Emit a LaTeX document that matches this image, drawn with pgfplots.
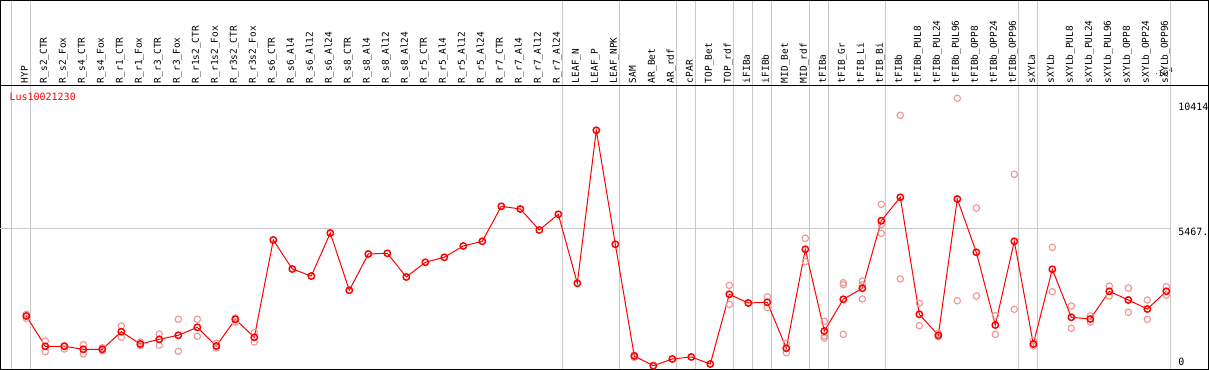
\documentclass[border=0pt]{standalone}
\usepackage{fontspec}
\usepackage{pgfplots}
\pgfplotsset{compat=1.18}
\usepackage{pgfplotstable}
\setmainfont{DejaVu Sans Mono}
\definecolor{meanred}{RGB}{255,0,0}
\definecolor{reppink}{RGB}{240,150,150}
\definecolor{gridgray}{RGB}{200,200,200}

\pgfplotstableread{
x y
0 2130
1 977
2 977
3 863
4 863
5 1532
6 1064
7 1243
8 1395
9 1700
10 988
11 2004
12 1319
13 5022
14 3918
15 3652
16 5288
17 3108
18 4489
19 4516
20 3614
21 4173
22 4364
23 4794
24 4972
25 6304
26 6201
27 5402
28 6000
29 3374
30 9196
31 4858
32 608
33 239
34 494
35 570
36 303
37 2956
38 2624
39 2651
40 901
41 4668
42 1559
43 2765
44 3184
45 5756
46 6647
47 2194
48 1395
49 6582
50 4554
51 1787
52 4972
53 1064
54 3907
55 2080
56 2016
57 3070
58 2739
59 2396
60 3070
}\meantable

\pgfplotstableread{
x y
0 2194
0 2042
1 1178
1 771
2 1000
2 874
3 1038
3 684
4 924
4 809
5 1749
5 1319
6 1140
6 1000
7 1445
7 1026
8 2004
8 787
8 1395
9 2004
9 1357
10 1091
10 912
11 2054
11 1902
12 1494
12 1140
32 646
32 551
37 3298
37 2575
39 2864
39 2446
40 1091
40 733
41 5087
41 4196
42 1928
42 1369
42 1293
43 3397
43 3321
43 1433
44 3458
44 3317
44 2777
45 6380
45 5277
45 5610
46 9767
46 3538
47 2613
47 1761
48 1471
48 1342
49 10414
49 2712
50 6239
50 2891
51 2141
51 1433
52 7522
52 2385
53 1190
53 988
54 4744
54 3055
55 2510
55 1662
56 2130
56 1902
57 3271
57 2891
58 3195
58 2271
59 2739
59 2004
60 3245
60 2918
}\reptable

\begin{document}
\begin{tikzpicture}
\begin{axis}[
  scale only axis, width=906pt, height=212.85pt,
  xmin=-1.3579, xmax=62.221, ymin=94, ymax=10893,
  clip=false,
  axis line style={line width=0.75pt},
  xtick={0,...,60},
  xticklabels={HYP,R\_s2\_CTR,R\_s2\_Fox,R\_s4\_CTR,R\_s4\_Fox,R\_r1\_CTR,R\_r1\_Fox,R\_r3\_CTR,R\_r3\_Fox,R\_r1s2\_CTR,R\_r1s2\_Fox,R\_r3s2\_CTR,R\_r3s2\_Fox,R\_s6\_CTR,R\_s6\_Al4,R\_s6\_Al12,R\_s6\_Al24,R\_s8\_CTR,R\_s8\_Al4,R\_s8\_Al12,R\_s8\_Al24,R\_r5\_CTR,R\_r5\_Al4,R\_r5\_Al12,R\_r5\_Al24,R\_r7\_CTR,R\_r7\_Al4,R\_r7\_Al12,R\_r7\_Al24,LEAF\_N,LEAF\_P,LEAF\_NPK,SAM,AR\_Bet,AR\_rdf,cPAR,TOP\_Bet,TOP\_rdf,iFIBa,iFIBb,MID\_Bet,MID\_rdf,tFIBa,tFIB\_Gr,tFIB\_Li,tFIB\_Bi,tFIBb,tFIBb\_PUL8,tFIBb\_PUL24,tFIBb\_PUL96,tFIBb\_OPP8,tFIBb\_OPP24,tFIBb\_OPP96,sXYLa,sXYLb,sXYLb\_PUL8,sXYLb\_PUL24,sXYLb\_PUL96,sXYLb\_OPP8,sXYLb\_OPP24,sXYLb\_OPP96},
  xticklabel pos=upper,
  xtick style={draw=none}, ytick style={draw=none},
  major tick length=0pt,
  xticklabel style={font=\fontsize{7.1}{8}\selectfont, xshift=1.1pt, yshift=1.8pt, rotate=90, anchor=base west, inner sep=0pt},
  ytick={10094,5315,379}, yticklabels={10414,5467.,0},
  yticklabel pos=right,
  yticklabel style={font=\fontsize{7.5}{9}\selectfont, anchor=west, inner sep=0pt, xshift=-22.875pt},
]
% grid lines
\pgfplotsinvokeforeach{-0.78,0.22,28.22,31.22,34.22,35.22,37.22,38.22,39.22,41.22,42.22,45.22,52.22,53.22,60.22}{
  \draw[gridgray, line width=0.75pt] (axis cs:#1,94) -- (axis cs:#1,14135);
}
\draw[gridgray, line width=0.75pt] (axis cs:-1.3579,5467) -- (axis cs:60.22,5467);
% outer frame above axis
\draw[black, line width=0.75pt] (rel axis cs:0,1) -- (rel axis cs:0,1.30021) -- (rel axis cs:1,1.30021) -- (rel axis cs:1,1);
\draw[black, line width=0.75pt] (rel axis cs:0,1) -- (rel axis cs:1,1);
\addplot[only marks, mark=o, color=reppink, mark size=2.4pt, mark options={line width=0.85pt}] table[x=x,y=y] {\reptable};
\addplot[color=meanred, line width=0.75pt, mark=o, mark size=2.4pt, mark options={line width=1.1pt}] table[x=x,y=y] {\meantable};
\node[anchor=west, text=meanred, inner sep=0pt, font=\fontsize{7.5}{9}\selectfont] at (axis cs:-0.895,10463) {Lus10021230};
\end{axis}
\pgfresetboundingbox
\path ([shift={(-0.375pt,-0.375pt)}]current axis.south west) rectangle ([shift={(0.375pt,64.275pt)}]current axis.north east);
\end{tikzpicture}
\end{document}
